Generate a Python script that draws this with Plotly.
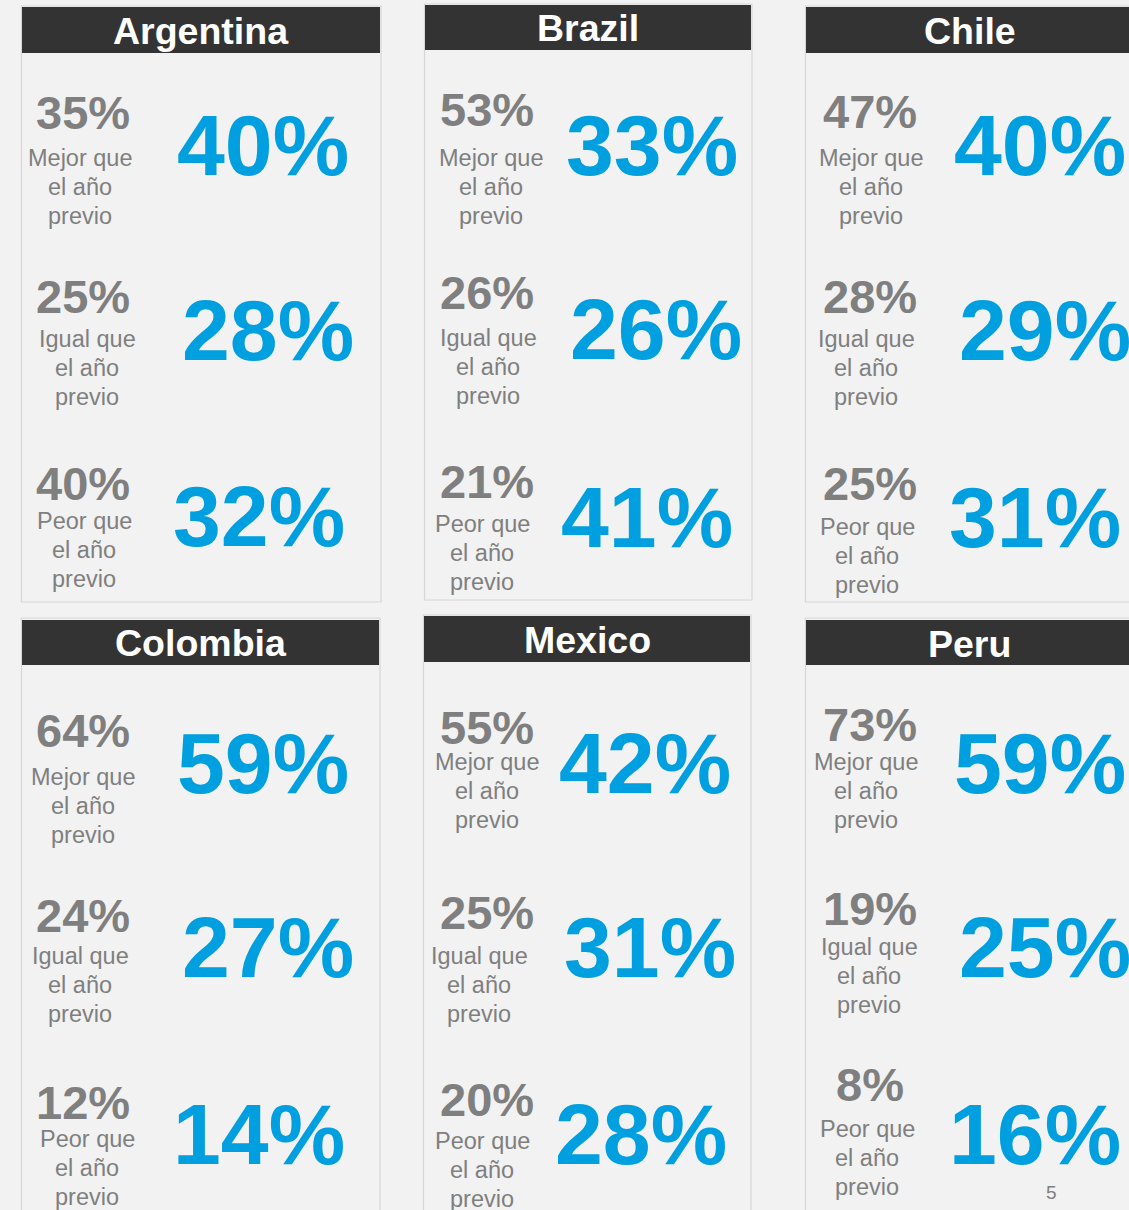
import plotly.graph_objects as go

# ---------------- data ----------------
countries = ["Argentina", "Brazil", "Chile", "Colombia", "Mexico", "Peru"]
categories = [["Mejor que", "el año", "previo"],
              ["Igual que", "el año", "previo"],
              ["Peor que", "el año", "previo"]]
prev_pct = [[35, 25, 40], [53, 26, 21], [47, 28, 25], [64, 24, 12], [55, 25, 20], [73, 19, 8]]
curr_pct = [[40, 28, 32], [33, 26, 41], [40, 29, 31], [59, 27, 14], [42, 31, 28], [59, 25, 16]]
page_number = "5"

# ---------------- layout (pixels) ----------------
W, H = 1129, 1210
BG = "#f2f2f2"
HEADER = "#333333"
BORDER = "#d6d6d6"
BLUE = "#009fdf"
GRAY = "#7f7f7f"
FONT = "Liberation Sans, Arial, sans-serif"
LINE_GAP = 28.8

boxes = [  # x0, x1, y0, y1, header_y0, header_y1, title_y
    (21.5, 381, 6, 602, 7, 53, 31),
    (424.5, 752, 4, 600, 5, 50, 28),
    (805.5, 1140, 6, 602, 7, 53, 31),
    (21.5, 380, 618, 1215, 620, 665, 643),
    (423.5, 751, 615, 1215, 616, 662, 640),
    (805.5, 1140, 618, 1215, 620, 665, 644),
]
small_x = [83, 487, 870, 83, 487, 870]
label_x = [[80, 87, 84], [491, 488, 482], [871, 866, 867],
           [83, 80, 87], [487, 479, 482], [866, 869, 867]]
big_x = [[263, 268, 259], [652, 656, 647], [1040, 1045, 1035],
         [263, 268, 259], [645, 650, 641], [1040, 1045, 1035]]
small_y = [[112, 296, 483], [109, 292, 481], [111, 296, 483],
           [730, 915, 1102], [727, 912, 1099], [724, 908, 1084]]
label_y = [[187, 368, 550], [187, 367, 553], [187, 368, 556],
           [806, 985, 1168], [791, 985, 1170], [791, 976, 1158]]
big_y = [[145, 330, 516], [145, 329, 517], [145, 330, 517],
         [763, 947, 1134], [763, 947, 1134], [763, 947, 1134]]

fig = go.Figure()
shapes = []
annotations = []

for i, name in enumerate(countries):
    x0, x1, y0, y1, hy0, hy1, ty = boxes[i]
    shapes.append(dict(type="rect", xref="x", yref="y", x0=x0, x1=x1, y0=y0, y1=y1,
                       fillcolor=BG, line=dict(color=BORDER, width=1.2), layer="below"))
    shapes.append(dict(type="rect", xref="x", yref="y", x0=x0 + 0.5, x1=x1 - 1, y0=hy0, y1=hy1,
                       fillcolor=HEADER, line=dict(width=0), layer="below"))
    annotations.append(dict(x=(x0 + x1) / 2 if x1 < W else (x0 + 1134) / 2, y=ty, xref="x", yref="y",
                            text=f"<b>{name}</b>", showarrow=False,
                            font=dict(family=FONT, size=37.5, color="white"),
                            xanchor="center", yanchor="middle"))
    for r in range(3):
        annotations.append(dict(x=small_x[i], y=small_y[i][r], xref="x", yref="y",
                                text=f"<b>{prev_pct[i][r]}%</b>", showarrow=False,
                                font=dict(family=FONT, size=47, color=GRAY),
                                xanchor="center", yanchor="middle"))
        for k, line in enumerate(categories[r]):
            annotations.append(dict(x=label_x[i][r], y=label_y[i][r] + (k - 1) * LINE_GAP,
                                    xref="x", yref="y", text=line, showarrow=False,
                                    font=dict(family=FONT, size=23.5, color=GRAY),
                                    xanchor="center", yanchor="middle"))
        annotations.append(dict(x=big_x[i][r], y=big_y[i][r], xref="x", yref="y",
                                text=f"<b>{curr_pct[i][r]}%</b>", showarrow=False,
                                font=dict(family=FONT, size=86, color=BLUE),
                                xanchor="center", yanchor="middle"))

annotations.append(dict(x=1051, y=1192, xref="x", yref="y", text=page_number, showarrow=False,
                        font=dict(family=FONT, size=19, color=GRAY),
                        xanchor="center", yanchor="middle"))

fig.update_layout(
    width=W, height=H,
    margin=dict(l=0, r=0, t=0, b=0),
    paper_bgcolor=BG, plot_bgcolor=BG,
    xaxis=dict(range=[0, W], visible=False, fixedrange=True),
    yaxis=dict(range=[H, 0], visible=False, fixedrange=True),
    shapes=shapes, annotations=annotations, showlegend=False,
)
fig.write_html("out.html", config={"displayModeBar": False},
               post_script="document.body.style.margin='0';document.body.style.background='#f2f2f2';")
